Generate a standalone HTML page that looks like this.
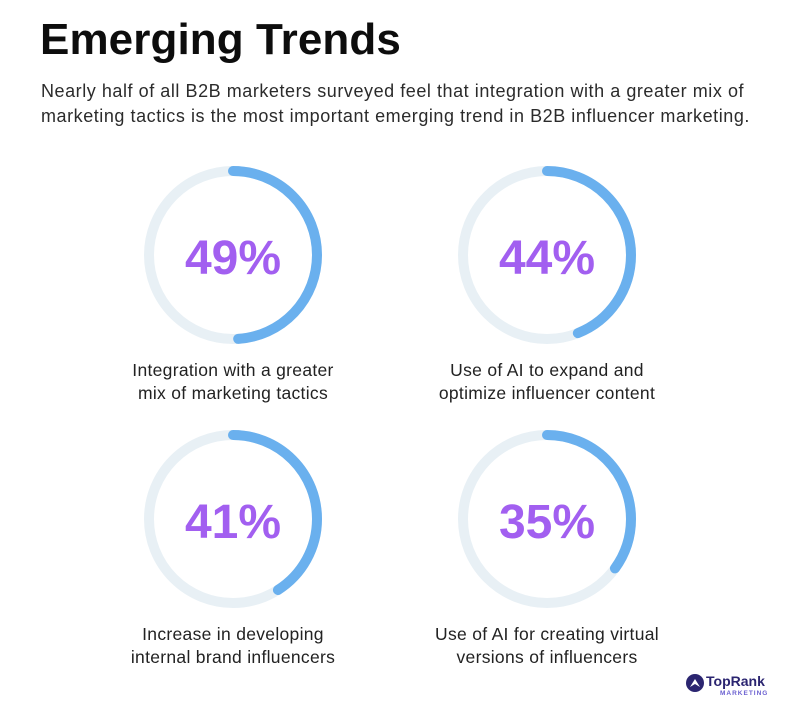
<!DOCTYPE html>
<html><head><meta charset="utf-8"><style>
body{margin:0;width:790px;height:704px;background:#fff;font-family:"Liberation Sans",sans-serif;position:relative;overflow:hidden}
h1{position:absolute;left:40px;top:15px;margin:0;font-size:44px;font-weight:bold;color:#0d0d0d;letter-spacing:0.1px}
.sub{position:absolute;left:41px;top:79px;width:760px;font-size:18px;line-height:25px;color:#2b2b2b;letter-spacing:0.55px;white-space:nowrap}
.lab{position:absolute;width:320px;text-align:center;font-size:17.5px;line-height:23px;color:#222;letter-spacing:0.3px}
svg{position:absolute;left:0;top:0}
</style></head><body>
<h1>Emerging Trends</h1>
<div class="sub">Nearly half of all B2B marketers surveyed feel that integration with a greater mix of<br>marketing tactics is the most important emerging trend in B2B influencer marketing.</div>
<svg width="790" height="704">
<g fill="none" stroke-width="10" stroke-linecap="round">
<circle cx="233" cy="255" r="84" stroke="#e8f0f5"/>
<circle cx="233" cy="255" r="84" stroke="#6ab0ee" stroke-dasharray="258.6 600" transform="rotate(-90 233 255)"/>
<circle cx="547" cy="255" r="84" stroke="#e8f0f5"/>
<circle cx="547" cy="255" r="84" stroke="#6ab0ee" stroke-dasharray="232.2 600" transform="rotate(-90 547 255)"/>
<circle cx="233" cy="519" r="84" stroke="#e8f0f5"/>
<circle cx="233" cy="519" r="84" stroke="#6ab0ee" stroke-dasharray="216.4 600" transform="rotate(-90 233 519)"/>
<circle cx="547" cy="519" r="84" stroke="#e8f0f5"/>
<circle cx="547" cy="519" r="84" stroke="#6ab0ee" stroke-dasharray="184.7 600" transform="rotate(-90 547 519)"/>
</g>
<g font-family="Liberation Sans, sans-serif" font-weight="bold" font-size="48" fill="#a25ff0" text-anchor="middle">
<text x="233" y="274">49%</text><text x="547" y="274">44%</text>
<text x="233" y="538">41%</text><text x="547" y="538">35%</text>
</g>
<g transform="translate(686,674)">
<circle cx="9" cy="9" r="9" fill="#2b2570"/>
<path d="M4 13 L9 5 L14 13 L9 10 Z" fill="#fff"/>
</g>
<text x="706" y="686" font-family="Liberation Sans, sans-serif" font-weight="bold" font-size="14" fill="#2b2570">TopRank</text>
<text x="720" y="695" font-family="Liberation Sans, sans-serif" font-weight="bold" font-size="6.5" fill="#6a5fd0" letter-spacing="1">MARKETING</text>
</svg>
<div class="lab" style="left:73px;top:359px">Integration with a greater<br>mix of marketing tactics</div>
<div class="lab" style="left:387px;top:359px">Use of AI to expand and<br>optimize influencer content</div>
<div class="lab" style="left:73px;top:623px">Increase in developing<br>internal brand influencers</div>
<div class="lab" style="left:387px;top:623px">Use of AI for creating virtual<br>versions of influencers</div>
</body></html>
